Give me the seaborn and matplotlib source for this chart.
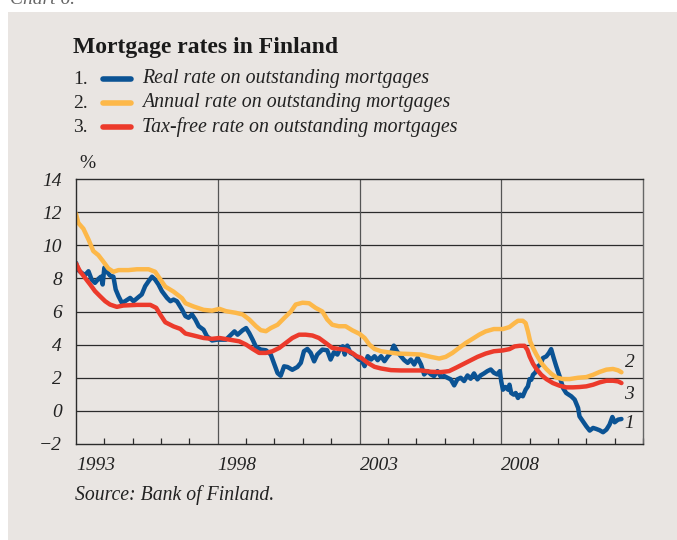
import pandas as pd
import matplotlib
matplotlib.use("Agg")
import matplotlib.pyplot as plt
from matplotlib.ticker import FixedLocator, MultipleLocator
from matplotlib.lines import Line2D
from matplotlib.patches import Rectangle
import seaborn as sns

# 1. Real rate on outstanding mortgages
real_years = [1993.0, 1993.08, 1993.2, 1993.32, 1993.44, 1993.55, 1993.67, 1993.79, 1993.88, 1993.94,
              1994.0, 1994.08, 1994.2, 1994.32, 1994.4, 1994.5, 1994.62, 1994.73, 1994.91, 1995.03,
              1995.21, 1995.32, 1995.44, 1995.56, 1995.68, 1995.79, 1995.91, 1996.03, 1996.21, 1996.33,
              1996.44, 1996.56, 1996.74, 1996.86, 1996.97, 1997.09, 1997.21, 1997.33, 1997.5, 1997.62,
              1997.8, 1997.98, 1998.06, 1998.29, 1998.47, 1998.59, 1998.7, 1998.88, 1999.0, 1999.11,
              1999.23, 1999.35, 1999.52, 1999.7, 1999.87, 2000.0, 2000.11, 2000.22, 2000.34, 2000.46,
              2000.63, 2000.81, 2000.93, 2001.04, 2001.16, 2001.28, 2001.4, 2001.51, 2001.69, 2001.86,
              2001.98, 2002.1, 2002.22, 2002.33, 2002.41, 2002.48, 2002.57, 2002.68, 2002.8, 2002.98,
              2003.06, 2003.18, 2003.29, 2003.41, 2003.53, 2003.64, 2003.76, 2003.88, 2004.0, 2004.11,
              2004.21, 2004.32, 2004.46, 2004.58, 2004.7, 2004.81, 2004.93, 2005.05, 2005.17, 2005.28,
              2005.4, 2005.52, 2005.63, 2005.75, 2005.87, 2005.99, 2006.1, 2006.22, 2006.34, 2006.45,
              2006.57, 2006.69, 2006.81, 2006.92, 2007.04, 2007.16, 2007.27, 2007.39, 2007.51, 2007.63,
              2007.74, 2007.86, 2007.95, 2008.0, 2008.06, 2008.15, 2008.24, 2008.29, 2008.35, 2008.44,
              2008.51, 2008.59, 2008.67, 2008.76, 2008.86, 2008.94, 2009.0, 2009.06, 2009.12, 2009.21,
              2009.29, 2009.38, 2009.47, 2009.59, 2009.68, 2009.76, 2009.85, 2009.94, 2010.06, 2010.18,
              2010.29, 2010.47, 2010.59, 2010.71, 2010.76, 2010.88, 2011.0, 2011.12, 2011.24, 2011.35,
              2011.47, 2011.59, 2011.71, 2011.82, 2011.92, 2012.0, 2012.12, 2012.24]
real_rate = [8.94, 8.5, 8.33, 8.2, 8.43, 7.93, 7.73, 7.97, 8.1, 7.63,
             8.64, 8.43, 8.17, 8.1, 7.33, 6.92, 6.52, 6.62, 6.82, 6.62,
             6.88, 7.03, 7.53, 7.83, 8.1, 7.93, 7.63, 7.23, 6.82, 6.62,
             6.72, 6.62, 6.12, 5.72, 5.62, 5.82, 5.51, 5.11, 4.9, 4.5,
             4.25, 4.3, 4.3, 4.3, 4.6, 4.8, 4.6, 4.87, 5.0, 4.7,
             4.3, 3.86, 3.7, 3.66, 3.4, 2.8, 2.28, 2.12, 2.69, 2.65,
             2.48, 2.65, 2.9, 3.6, 3.74, 3.5, 2.99, 3.4, 3.7, 3.66,
             3.1, 3.54, 3.4, 3.8, 3.9, 3.4, 3.94, 3.5, 3.4, 3.1,
             3.1, 2.7, 3.3, 3.1, 3.3, 3.06, 3.3, 3.0, 3.3, 3.5,
             3.94, 3.6, 3.3, 3.06, 2.9, 3.1, 2.8, 3.2, 2.8, 2.2,
             2.4, 2.2, 2.1, 2.4, 2.06, 2.1, 2.0, 1.9, 1.54, 1.9,
             2.0, 1.8, 2.14, 1.94, 2.26, 1.9, 2.14, 2.26, 2.4, 2.5,
             2.3, 2.2, 2.4, 1.78, 1.28, 1.44, 1.28, 1.58, 1.08, 0.98,
             1.08, 0.78, 0.98, 0.88, 1.28, 1.48, 1.92, 1.88, 2.18, 2.33,
             2.69, 2.79, 3.19, 3.29, 3.49, 3.73, 3.19, 2.69, 2.08, 1.38,
             1.08, 0.88, 0.68, 0.18, -0.33, -0.63, -0.93, -1.19, -1.03, -1.09,
             -1.17, -1.29, -1.13, -0.83, -0.37, -0.69, -0.53, -0.49]

# 2. Annual rate on outstanding mortgages
annual_years = [1993.0, 1993.08, 1993.26, 1993.44, 1993.61, 1993.79, 1993.97, 1994.14, 1994.32, 1994.5,
                1994.85, 1995.15, 1995.56, 1995.79, 1995.97, 1996.15, 1996.44, 1996.74, 1996.86, 1997.15,
                1997.5, 1997.8, 1998.06, 1998.29, 1998.64, 1998.88, 1999.11, 1999.35, 1999.52, 1999.7,
                1999.87, 2000.11, 2000.34, 2000.58, 2000.75, 2000.99, 2001.22, 2001.45, 2001.69, 2001.86,
                2002.04, 2002.27, 2002.51, 2002.74, 2003.0, 2003.18, 2003.35, 2003.53, 2003.76, 2004.0,
                2004.35, 2004.7, 2005.17, 2005.52, 2005.81, 2006.04, 2006.28, 2006.51, 2006.75, 2006.98,
                2007.22, 2007.45, 2007.74, 2008.06, 2008.29, 2008.47, 2008.59, 2008.76, 2008.86, 2008.94,
                2009.02, 2009.12, 2009.24, 2009.41, 2009.59, 2009.76, 2009.94, 2010.18, 2010.41, 2010.71,
                2011.0, 2011.24, 2011.47, 2011.71, 2011.94, 2012.12, 2012.24]
annual_rate = [11.9, 11.35, 11.0, 10.35, 9.65, 9.4, 9.0, 8.6, 8.4, 8.5,
               8.5, 8.55, 8.55, 8.4, 7.95, 7.5, 7.2, 6.8, 6.5, 6.3,
               6.1, 6.05, 6.16, 6.02, 5.92, 5.82, 5.52, 5.11, 4.87, 4.81,
               5.0, 5.2, 5.6, 6.0, 6.42, 6.53, 6.5, 6.22, 6.0, 5.52,
               5.2, 5.11, 5.11, 4.87, 4.65, 4.4, 4.0, 3.74, 3.6, 3.54,
               3.46, 3.44, 3.4, 3.26, 3.16, 3.26, 3.5, 3.8, 4.1, 4.34,
               4.6, 4.8, 4.94, 4.94, 5.06, 5.3, 5.44, 5.44, 5.3, 4.8,
               4.2, 3.8, 3.4, 2.9, 2.53, 2.25, 2.02, 1.92, 1.92, 2.0,
               2.04, 2.18, 2.35, 2.49, 2.53, 2.45, 2.33]

# 3. Tax-free rate on outstanding mortgages
taxfree_years = [1993.0, 1993.14, 1993.32, 1993.5, 1993.67, 1993.85, 1994.03, 1994.2, 1994.44, 1994.67,
                 1995.15, 1995.62, 1995.83, 1995.97, 1996.15, 1996.44, 1996.68, 1996.86, 1997.15, 1997.5,
                 1997.8, 1998.06, 1998.41, 1998.76, 1999.0, 1999.23, 1999.46, 1999.7, 1999.93, 2000.17,
                 2000.4, 2000.63, 2000.87, 2001.1, 2001.34, 2001.57, 2001.81, 2002.04, 2002.27, 2002.51,
                 2002.74, 2002.9, 2003.06, 2003.29, 2003.53, 2003.76, 2004.11, 2004.46, 2004.81, 2005.17,
                 2005.52, 2005.87, 2006.16, 2006.4, 2006.63, 2006.86, 2007.16, 2007.45, 2007.74, 2008.06,
                 2008.29, 2008.47, 2008.65, 2008.82, 2008.92, 2009.0, 2009.12, 2009.24, 2009.41, 2009.59,
                 2009.82, 2010.06, 2010.29, 2010.53, 2010.76, 2011.0, 2011.24, 2011.47, 2011.71, 2011.94,
                 2012.12, 2012.24]
taxfree_rate = [8.9, 8.43, 8.03, 7.63, 7.23, 6.92, 6.62, 6.42, 6.28, 6.36,
                6.4, 6.4, 6.22, 5.82, 5.35, 5.1, 4.95, 4.67, 4.55, 4.4,
                4.35, 4.4, 4.3, 4.2, 4.0, 3.74, 3.5, 3.5, 3.6, 3.8,
                4.1, 4.4, 4.6, 4.6, 4.55, 4.4, 4.1, 3.8, 3.74, 3.7,
                3.5, 3.3, 3.2, 2.9, 2.66, 2.56, 2.46, 2.44, 2.44, 2.44,
                2.36, 2.34, 2.4, 2.6, 2.8, 3.0, 3.26, 3.46, 3.6, 3.65,
                3.73, 3.89, 3.93, 3.93, 3.69, 3.29, 2.85, 2.53, 2.18, 1.92,
                1.68, 1.52, 1.42, 1.42, 1.44, 1.48, 1.58, 1.72, 1.82, 1.82,
                1.78, 1.68]

series_names = ["Real rate on outstanding mortgages",
                "Annual rate on outstanding mortgages",
                "Tax-free rate on outstanding mortgages"]
series_colors = ["#0b5394", "#fdb849", "#ec3a2b"]
year_ticks = [1993, 1998, 2003, 2008]
rate_ticks = [-2, 0, 2, 4, 6, 8, 10, 12, 14]

BG = "#e9e5e2"
TXT = "#222222"

df = pd.concat([
    pd.DataFrame({"year": real_years, "rate": real_rate, "series": series_names[0]}),
    pd.DataFrame({"year": annual_years, "rate": annual_rate, "series": series_names[1]}),
    pd.DataFrame({"year": taxfree_years, "rate": taxfree_rate, "series": series_names[2]}),
], ignore_index=True)

sns.set_style("ticks")
plt.rcParams["font.family"] = ["Liberation Serif", "DejaVu Serif"]

W, H = 677, 540
fig = plt.figure(figsize=(W / 100, H / 100), dpi=100)
fig.patch.set_facecolor("white")
fig.patches.append(Rectangle((8 / W, 0), 1, 1 - 12 / H, transform=fig.transFigure,
                             facecolor=BG, edgecolor="none", zorder=-10))

ax = fig.add_axes([76 / W, 1 - 444 / H, (643 - 76) / W, (444 - 179) / H])
ax.set_facecolor(BG)

sns.lineplot(data=df, x="year", y="rate", hue="series", hue_order=series_names,
             palette=dict(zip(series_names, series_colors)), estimator=None, sort=False,
             linewidth=3.2, legend=False, ax=ax)

ax.set_xlim(1993, 2013)
ax.set_ylim(-2, 14)
ax.set_xlabel("")
ax.set_ylabel("")

# grid
for v in rate_ticks[1:-1]:
    ax.axhline(v, color="#2b2b2b", lw=0.9, zorder=0)
for yr in year_ticks[1:]:
    ax.axvline(yr, color="#555555", lw=0.9, zorder=0)

for side in ["left", "bottom", "top"]:
    ax.spines[side].set_color("#2b2b2b")
    ax.spines[side].set_linewidth(1.0)
ax.spines["right"].set_color("#666666")
ax.spines["right"].set_linewidth(1.0)

ax.xaxis.set_major_locator(FixedLocator(year_ticks))
ax.xaxis.set_minor_locator(MultipleLocator(1))
ax.yaxis.set_major_locator(FixedLocator(rate_ticks))
ax.tick_params(axis="x", which="major", length=0, pad=9, labelsize=14, labelcolor=TXT)
ax.tick_params(axis="x", which="minor", direction="in", length=4, width=0.9, color="#2b2b2b")
ax.tick_params(axis="y", which="major", length=0, pad=10, labelsize=14, labelcolor=TXT)
for lab in ax.get_xticklabels():
    lab.set_horizontalalignment("left")
    lab.set_style("italic")
for lab in ax.get_yticklabels():
    lab.set_style("italic")

# end labels
ax.text(2012.52, 2.9, "2", fontsize=14, style="italic", ha="center", va="center", color=TXT)
ax.text(2012.5, 1.0, "3", fontsize=14, style="italic", ha="center", va="center", color=TXT)
ax.text(2012.52, -0.78, "1", fontsize=14, style="italic", ha="center", va="center", color=TXT)

# title, legend and notes
fig.text(10 / W, 1 - 4 / H, "Chart 6.", fontsize=14, style="italic", color="#666666", va="baseline")
fig.text(73 / W, 1 - 47 / H, "Mortgage rates in Finland", fontsize=17, fontweight="bold",
         color="#1a1a1a", va="center")
rows_y = [79, 103, 127]
for i, (name, col) in enumerate(zip(series_names, series_colors)):
    yy = 1 - rows_y[i] / H
    fig.text(73 / W, yy, f"{i + 1}.", fontsize=14, color=TXT, va="center")
    fig.lines.append(Line2D([103 / W, 131 / W], [yy, yy], transform=fig.transFigure,
                            color=col, lw=4, solid_capstyle="round"))
    fig.text(142 / W, yy, name, fontsize=14.3, style="italic", color=TXT, va="center")

fig.text(79 / W, 1 - 163 / H, "%", fontsize=14, color=TXT, va="center")
fig.text(75 / W, 1 - 495 / H, "Source: Bank of Finland.", fontsize=14.2, style="italic",
         color=TXT, va="center")

fig.savefig("out.png", dpi=100, facecolor=fig.get_facecolor())
